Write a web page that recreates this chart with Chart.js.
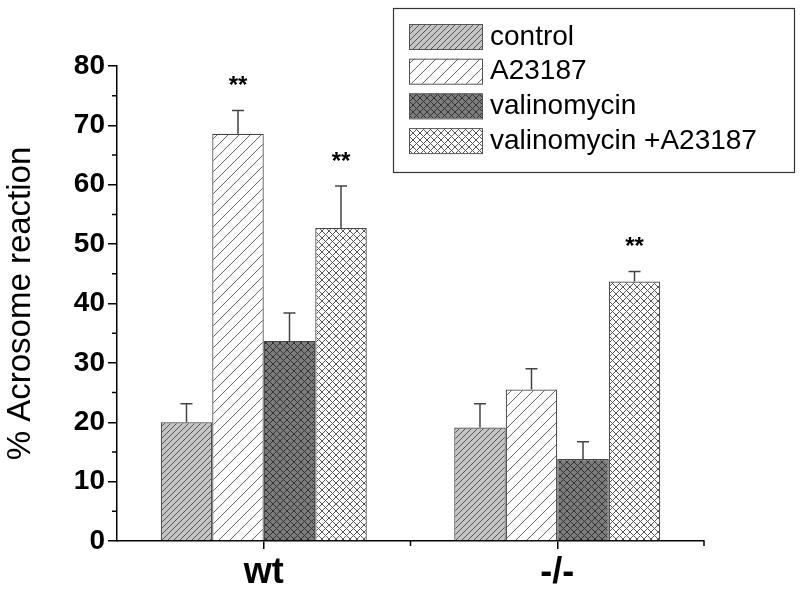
<!DOCTYPE html>
<html>
<head>
<meta charset="utf-8">
<script src="https://cdn.jsdelivr.net/npm/chart.js@4"></script>
<style>
  html, body { margin: 0; padding: 0; background: #fff; }
  #wrap { width: 800px; height: 591px; }
</style>
</head>
<body>
<div id="wrap"><canvas id="myChart" width="800" height="591"></canvas></div>
<script>
const groups = ['wt', '-/-'];
const seriesNames = ['control', 'A23187', 'valinomycin', 'valinomycin +A23187'];
const control = [20.0, 19.1];
const a23187 = [68.6, 25.5];
const valinomycin = [33.7, 13.8];
const valA23187 = [52.7, 43.7];
const controlErr = [3.1, 4.0];
const a23187Err = [3.9, 3.5];
const valinomycinErr = [4.7, 2.9];
const valA23187Err = [7.1, 1.7];
// which bars get "**" (one flag per group)
const controlSig = [false, false];
const a23187Sig = [true, false];
const valinomycinSig = [false, false];
const valA23187Sig = [true, true];

const FONT = "Arial, 'Liberation Sans', sans-serif";

function makePattern(bg, size, cross, lineColor) {
  const c = document.createElement('canvas');
  c.width = size; c.height = size;
  const g = c.getContext('2d');
  g.fillStyle = bg;
  g.fillRect(0, 0, size, size);
  g.strokeStyle = lineColor;
  g.lineWidth = 1;
  g.beginPath();
  // "/" lines
  g.moveTo(-1, size + 1); g.lineTo(size + 1, -1);
  g.moveTo(-1, 1); g.lineTo(1, -1);
  g.moveTo(size - 1, size + 1); g.lineTo(size + 1, size - 1);
  if (cross) {
    // "\" lines
    g.moveTo(-1, -1); g.lineTo(size + 1, size + 1);
    g.moveTo(size - 1, -1); g.lineTo(size + 1, 1);
    g.moveTo(-1, size - 1); g.lineTo(1, size + 1);
  }
  g.stroke();
  return g.createPattern(c, 'repeat');
}

const fills = [
  makePattern('#c4c4c4', 6, false, '#555'),
  makePattern('#ffffff', 11, false, '#666'),
  makePattern('#7c7c7c', 7, true, '#333'),
  makePattern('#ffffff', 7, true, '#555')
];
const values = [control, a23187, valinomycin, valA23187];
const errors = [controlErr, a23187Err, valinomycinErr, valA23187Err];
const sig = [controlSig, a23187Sig, valinomycinSig, valA23187Sig];

const extras = {
  id: 'extras',
  afterDatasetsDraw(chart) {
    const ctx = chart.ctx;
    const y = chart.scales.y;
    const x = chart.scales.x;
    ctx.save();
    // error bars and stars
    chart.data.datasets.forEach((ds, i) => {
      const meta = chart.getDatasetMeta(i);
      meta.data.forEach((bar, j) => {
        const top = y.getPixelForValue(ds.data[j] + errors[i][j]);
        ctx.strokeStyle = '#444';
        ctx.lineWidth = 1.5;
        ctx.beginPath();
        ctx.moveTo(bar.x, bar.y);
        ctx.lineTo(bar.x, top);
        ctx.moveTo(bar.x - 6, top);
        ctx.lineTo(bar.x + 6, top);
        ctx.stroke();
        if (sig[i][j]) {
          ctx.fillStyle = '#000';
          ctx.font = 'bold 24px ' + FONT;
          ctx.textAlign = 'center';
          ctx.textBaseline = 'middle';
          ctx.fillText('**', bar.x, top - 24);
        }
      });
    });
    // minor y ticks
    ctx.strokeStyle = '#000';
    ctx.lineWidth = 1.5;
    ctx.beginPath();
    for (let v = 5; v < 80; v += 10) {
      const py = y.getPixelForValue(v);
      ctx.moveTo(x.left - 5, py);
      ctx.lineTo(x.left, py);
    }
    // minor x ticks at category boundaries
    const half = (x.getPixelForValue(1) - x.getPixelForValue(0)) / 2;
    [x.getPixelForValue(0) + half, x.right].forEach(px => {
      ctx.moveTo(px, y.bottom);
      ctx.lineTo(px, y.bottom + 5);
    });
    ctx.stroke();

    // legend box
    ctx.fillStyle = '#fff';
    ctx.fillRect(393, 8, 401, 164);
    ctx.strokeStyle = '#333';
    ctx.lineWidth = 1.2;
    ctx.strokeRect(393.5, 8.5, 401, 164);
    chart.data.datasets.forEach((ds, i) => {
      const ty = 24 + i * 34.7;
      ctx.fillStyle = ds.backgroundColor;
      ctx.fillRect(409, ty, 73, 25);
      ctx.strokeStyle = '#555';
      ctx.lineWidth = 1;
      ctx.strokeRect(409.5, ty + 0.5, 73, 25);
      ctx.fillStyle = '#000';
      ctx.font = '28px ' + FONT;
      ctx.textAlign = 'left';
      ctx.textBaseline = 'middle';
      ctx.fillText(ds.label, 490, ty + 13);
    });
    ctx.restore();
  }
};

new Chart(document.getElementById('myChart'), {
  type: 'bar',
  data: {
    labels: groups,
    datasets: seriesNames.map((name, i) => ({
      label: name,
      data: values[i],
      backgroundColor: fills[i],
      borderColor: '#444',
      borderWidth: 1.2,
      categoryPercentage: 0.702,
      barPercentage: 1.0
    }))
  },
  options: {
    responsive: false,
    animation: false,
    layout: { padding: { top: 66, right: 96, left: 0, bottom: 0 } },
    plugins: {
      legend: { display: false },
      tooltip: { enabled: false }
    },
    scales: {
      x: {
        grid: { display: true, drawOnChartArea: false, offset: false, tickLength: 8, color: '#000', lineWidth: 1.5 },
        border: { color: '#000', width: 1.5 },
        ticks: { color: '#000', padding: 2, font: { family: FONT, size: 36, weight: 'bold' } },
        afterFit(scale) { scale.height = 50; }
      },
      y: {
        min: 0,
        max: 80,
        grid: { display: true, drawOnChartArea: false, tickLength: 9, color: '#000', lineWidth: 1.5 },
        border: { color: '#000', width: 1.5 },
        ticks: { stepSize: 10, color: '#000', padding: 3, font: { family: FONT, size: 28, weight: 'bold' } },
        title: { display: true, text: '% Acrosome reaction', color: '#000', padding: { top: 1, bottom: 0 }, font: { family: FONT, size: 33 } },
        afterFit(scale) { scale.width = 117; }
      }
    }
  },
  plugins: [extras]
});
</script>
</body>
</html>
